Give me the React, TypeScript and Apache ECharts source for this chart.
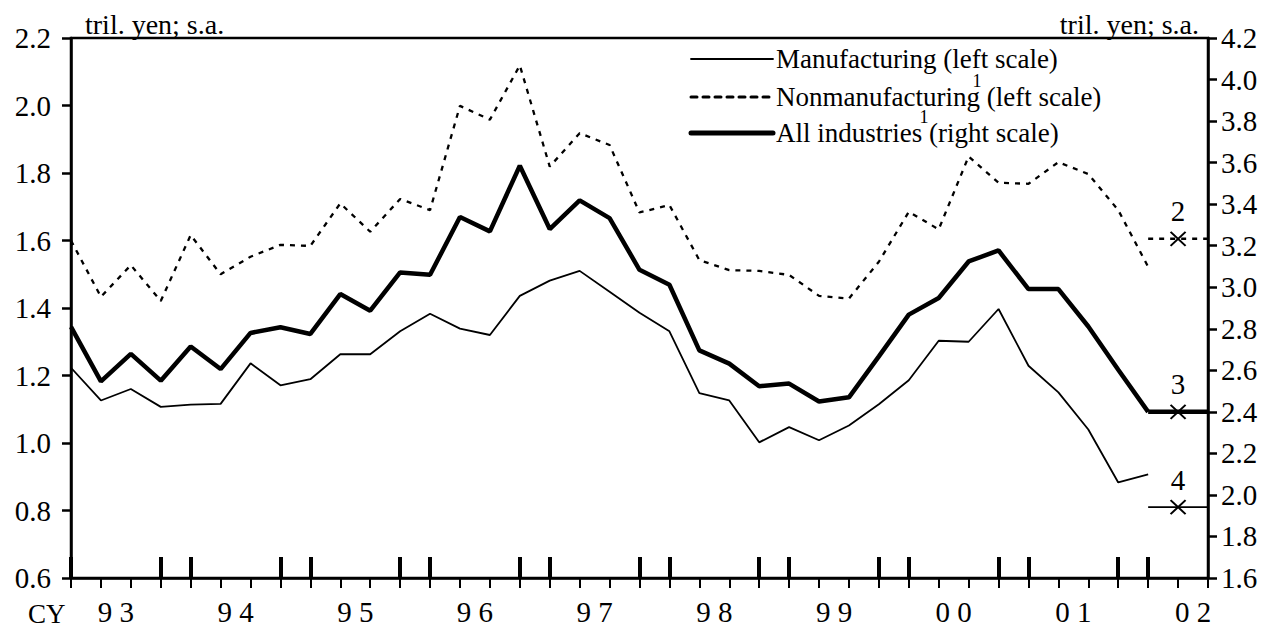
import { useEffect, useRef } from "react";
import * as echarts from "echarts";

// ---- data ----
const years = ["93", "94", "95", "96", "97", "98", "99", "00", "01", "02"];
const quarterNames = ["Q1", "Q2", "Q3", "Q4"];
const yearLabels = ["9 3", "9 4", "9 5", "9 6", "9 7", "9 8", "9 9", "0 0", "0 1", "0 2"];

const manufacturing = [
  1.223, 1.126, 1.16, 1.107, 1.114, 1.116, 1.236, 1.171, 1.189, 1.263, 1.263, 1.331,
  1.383, 1.339, 1.32, 1.436, 1.481, 1.51, 1.448, 1.386, 1.331, 1.148, 1.126, 1.002,
  1.047, 1.008, 1.052, 1.115, 1.186, 1.303, 1.3, 1.397, 1.229, 1.15, 1.04, 0.883, 0.907,
];
const nonmanufacturing = [
  1.6, 1.433, 1.527, 1.421, 1.616, 1.5, 1.552, 1.587, 1.584, 1.71, 1.626, 1.723,
  1.69, 1.999, 1.958, 2.119, 1.819, 1.918, 1.883, 1.683, 1.705, 1.542, 1.512, 1.51,
  1.498, 1.436, 1.428, 1.537, 1.685, 1.633, 1.849, 1.771, 1.768, 1.832, 1.797, 1.69, 1.522,
];
const allIndustries = [
  2.809, 2.547, 2.679, 2.55, 2.715, 2.606, 2.78, 2.807, 2.775, 2.967, 2.887, 3.071,
  3.06, 3.338, 3.269, 3.585, 3.28, 3.418, 3.333, 3.084, 3.012, 2.696, 2.632, 2.523,
  2.536, 2.45, 2.47, 2.667, 2.868, 2.948, 3.124, 3.177, 2.991, 2.991, 2.811, 2.603, 2.4,
];
// forecasts (notes 2, 3, 4)
const forecastLabels = ["2", "3", "4"];
const forecastNonmanufacturing = 1.605;
const forecastAllIndustries = 2.4;
const forecastManufacturing = 0.81;

const leftTicks = { min: 0.6, max: 2.2, interval: 0.2 };
const rightTicks = { min: 1.6, max: 4.2, interval: 0.2 };

// categories: 93Q1 .. 02Q3
const categories: string[] = [];
years.forEach((y) => quarterNames.forEach((q) => categories.push(y + q)));
categories.splice(39);

const FONT = "'Liberation Serif', 'Times New Roman', serif";
const FORECAST_START = manufacturing.length - 1; // 36
const MARK_INDEX = FORECAST_START + 1; // 37

function forecastLine(v: number) {
  return categories.map((_, i) => (i >= FORECAST_START ? v : null));
}

export default function App() {
  const ref = useRef<HTMLDivElement>(null);
  useEffect(() => {
    if (!ref.current) return;
    const chart = echarts.init(ref.current, undefined, { renderer: "svg" });
    const xMark = "path://M0 0L10 10M10 0L0 10";
    const markStyle = { color: "transparent", borderColor: "#000", borderWidth: 2, opacity: 1 };
    const markLabel = (t: string) => ({
      show: true,
      position: "top",
      distance: 5,
      formatter: t,
      fontSize: 29,
      fontFamily: FONT,
      color: "#000",
      opacity: 1,
    });
    const legendRows = [
      { y: 59, text: "Manufacturing (left scale)", width: 1.8, dash: null },
      { y: 97, text: "Nonmanufacturing (left scale)", width: 3, dash: [6, 6] },
      { y: 133, text: "All industries (right scale)", width: 5, dash: null },
    ];
    const graphics: any[] = [];
    legendRows.forEach((r) => {
      graphics.push({
        type: "line",
        shape: { x1: 691, y1: r.y, x2: 773, y2: r.y },
        style: { stroke: "#000", lineWidth: r.width, lineDash: r.dash, lineCap: "round" },
      });
      graphics.push({
        type: "text",
        x: 776,
        y: r.y,
        style: { text: r.text, fontSize: 27, fontFamily: FONT, fill: "#000", verticalAlign: "middle" },
      });
    });
    graphics.push(
      { type: "text", x: 977, y: 81, style: { text: "1", fontSize: 18, fontFamily: FONT, fill: "#000", align: "center", verticalAlign: "middle" } },
      { type: "text", x: 924, y: 117, style: { text: "1", fontSize: 18, fontFamily: FONT, fill: "#000", align: "center", verticalAlign: "middle" } },
      { type: "text", x: 85, y: 24, style: { text: "tril. yen; s.a.", fontSize: 28, fontFamily: FONT, fill: "#000", verticalAlign: "middle" } },
      { type: "text", x: 1199, y: 24, style: { text: "tril. yen; s.a.", fontSize: 28, fontFamily: FONT, fill: "#000", align: "right", verticalAlign: "middle" } },
      { type: "text", x: 28, y: 614, style: { text: "CY", fontSize: 27, fontFamily: FONT, fill: "#000", verticalAlign: "middle" } }
    );

    chart.setOption({
      animation: false,
      backgroundColor: "#fff",
      grid: { left: 71, right: 60, top: 38, bottom: 55, show: true, borderColor: "#000", borderWidth: 2.5, backgroundColor: "transparent" },
      xAxis: [
        {
          type: "category",
          data: categories,
          boundaryGap: false,
          axisLine: { lineStyle: { color: "#000", width: 2.5 } },
          axisTick: { show: true, interval: 0, inside: false, length: 10, lineStyle: { color: "#000", width: 2 } },
          axisLabel: {
            interval: (i: number) => i % 4 === 1,
            formatter: (_v: string, i: number) => yearLabels[Math.floor(i / 4)],
            padding: [0, 0, 0, 30],
            margin: 19,
            fontSize: 29,
            fontFamily: FONT,
            color: "#000",
          },
          splitLine: { show: false },
        },
        {
          type: "category",
          data: categories,
          boundaryGap: false,
          position: "bottom",
          axisLine: { show: false },
          axisTick: {
            show: true,
            inside: true,
            length: 21,
            interval: (i: number) => i % 4 === 0 || i % 4 === 3,
            lineStyle: { color: "#000", width: 4 },
          },
          axisLabel: { show: false },
          splitLine: { show: false },
        },
      ],
      yAxis: [
        {
          type: "value",
          position: "left",
          ...leftTicks,
          axisLine: { show: true, lineStyle: { color: "#000", width: 2.5 } },
          axisTick: { show: true, length: 9, lineStyle: { color: "#000", width: 2.5 } },
          axisLabel: { margin: 20, fontSize: 29, fontFamily: FONT, color: "#000", formatter: (v: number) => v.toFixed(1) },
          splitLine: { show: false },
        },
        {
          type: "value",
          position: "right",
          ...rightTicks,
          axisLine: { show: true, lineStyle: { color: "#000", width: 2.5 } },
          axisTick: { show: true, length: 9, lineStyle: { color: "#000", width: 2.5 } },
          axisLabel: { margin: 13, fontSize: 29, fontFamily: FONT, color: "#000", formatter: (v: number) => v.toFixed(1) },
          splitLine: { show: false },
        },
      ],
      graphic: graphics,
      series: [
        {
          name: "Manufacturing",
          type: "line",
          yAxisIndex: 0,
          data: manufacturing,
          symbol: "none",
          lineStyle: { color: "#000", width: 1.8 },
        },
        {
          name: "Nonmanufacturing",
          type: "line",
          yAxisIndex: 0,
          data: nonmanufacturing,
          symbol: "none",
          lineStyle: { color: "#000", width: 2.3, type: [5, 6] },
        },
        {
          name: "All industries",
          type: "line",
          yAxisIndex: 1,
          data: allIndustries,
          symbol: "none",
          lineStyle: { color: "#000", width: 4.5 },
        },
        {
          name: "Nonmanufacturing forecast",
          type: "line",
          yAxisIndex: 0,
          data: forecastLine(forecastNonmanufacturing),
          symbol: "none",
          lineStyle: { color: "#000", width: 2.5, type: [5, 6] },
        },
        {
          name: "All industries forecast",
          type: "line",
          yAxisIndex: 1,
          data: forecastLine(forecastAllIndustries),
          symbol: "none",
          lineStyle: { color: "#000", width: 4.5 },
        },
        {
          name: "Manufacturing forecast",
          type: "line",
          yAxisIndex: 0,
          data: forecastLine(forecastManufacturing),
          symbol: "none",
          lineStyle: { color: "#000", width: 1.8 },
        },
        {
          type: "scatter",
          yAxisIndex: 0,
          symbol: xMark,
          symbolSize: [15, 14],
          itemStyle: markStyle,
          label: markLabel(forecastLabels[0]),
          data: [[categories[MARK_INDEX], forecastNonmanufacturing]],
          z: 5,
        },
        {
          type: "scatter",
          yAxisIndex: 1,
          symbol: xMark,
          symbolSize: [15, 14],
          itemStyle: markStyle,
          label: markLabel(forecastLabels[1]),
          data: [[categories[MARK_INDEX], forecastAllIndustries]],
          z: 5,
        },
        {
          type: "scatter",
          yAxisIndex: 0,
          symbol: xMark,
          symbolSize: [15, 14],
          itemStyle: markStyle,
          label: markLabel(forecastLabels[2]),
          data: [[categories[MARK_INDEX], forecastManufacturing]],
          z: 5,
        },
      ],
    });
    return () => chart.dispose();
  }, []);
  return <div ref={ref} style={{ position: "fixed", left: 0, top: 0, width: 1268, height: 633 }} />;
}
